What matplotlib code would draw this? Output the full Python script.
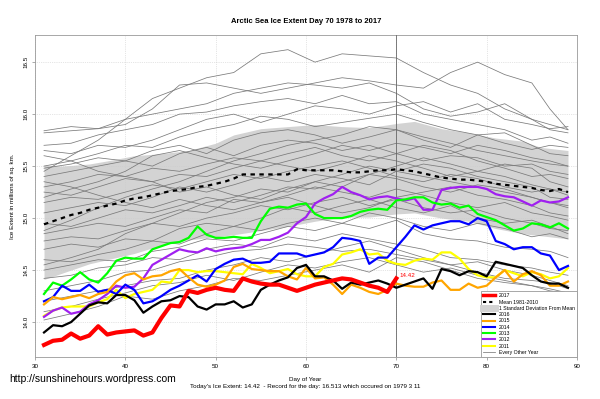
import matplotlib
matplotlib.use("Agg")
import matplotlib.pyplot as plt
from matplotlib.lines import Line2D
import numpy as np

plt.rcParams['font.family'] = ['Liberation Sans', 'DejaVu Sans']

days = list(range(31, 90))
days_2017 = list(range(31, 71))

ice_2017 = [13.78, 13.82, 13.83, 13.89, 13.84, 13.87, 13.96, 13.88, 13.90, 13.91,
            13.92, 13.87, 13.90, 14.04, 14.16, 14.15, 14.30, 14.28, 14.31, 14.33,
            14.31, 14.30, 14.42, 14.39, 14.37, 14.36, 14.36, 14.33, 14.30, 14.33,
            14.36, 14.38, 14.40, 14.42, 14.41, 14.38, 14.35, 14.33, 14.29, 14.42]
ice_2016 = [13.90, 13.97, 13.96, 14.00, 14.08, 14.16, 14.19, 14.18, 14.26, 14.26,
            14.21, 14.09, 14.15, 14.20, 14.21, 14.25, 14.24, 14.15, 14.12, 14.17,
            14.17, 14.20, 14.14, 14.17, 14.31, 14.36, 14.40, 14.43, 14.52, 14.55,
            14.44, 14.44, 14.40, 14.32, 14.38, 14.36, 14.38, 14.40, 14.37, 14.33,
            14.36, 14.39, 14.42, 14.32, 14.51, 14.49, 14.45, 14.49, 14.48, 14.44,
            14.58, 14.56, 14.54, 14.52, 14.45, 14.39, 14.37, 14.37, 14.33]
ice_2015 = [14.17, 14.24, 14.22, 14.24, 14.26, 14.23, 14.27, 14.29, 14.39, 14.45,
            14.47, 14.41, 14.44, 14.45, 14.49, 14.51, 14.43, 14.36, 14.34, 14.36,
            14.40, 14.53, 14.56, 14.51, 14.50, 14.49, 14.49, 14.44, 14.41, 14.52,
            14.42, 14.43, 14.36, 14.27, 14.36, 14.33, 14.29, 14.27, 14.31, 14.37,
            14.35, 14.34, 14.34, 14.38, 14.40, 14.31, 14.31, 14.37, 14.33, 14.35,
            14.43, 14.50, 14.39, 14.46, 14.49, 14.45, 14.35, 14.35, 14.39]
ice_2014 = [14.20, 14.24, 14.35, 14.30, 14.30, 14.36, 14.29, 14.31, 14.27, 14.36,
            14.31, 14.18, 14.20, 14.25, 14.31, 14.35, 14.40, 14.45, 14.39, 14.51,
            14.56, 14.60, 14.61, 14.57, 14.57, 14.58, 14.66, 14.66, 14.66, 14.63,
            14.65, 14.67, 14.72, 14.81, 14.80, 14.78, 14.56, 14.62, 14.62, 14.72,
            14.82, 14.93, 14.89, 14.93, 14.95, 14.97, 14.97, 14.94, 15.00, 14.97,
            14.78, 14.75, 14.70, 14.72, 14.72, 14.66, 14.64, 14.50, 14.54]
ice_2013 = [14.27, 14.38, 14.35, 14.41, 14.48, 14.41, 14.38, 14.47, 14.59, 14.62,
            14.61, 14.61, 14.70, 14.73, 14.76, 14.77, 14.81, 14.92, 14.84, 14.81,
            14.81, 14.82, 14.81, 14.81, 14.97, 15.09, 15.11, 15.10, 15.13, 15.14,
            15.04, 15.00, 15.00, 15.00, 15.02, 15.06, 15.08, 15.09, 15.08, 15.17,
            15.18, 15.20, 15.20, 15.15, 15.13, 15.14, 15.10, 15.12, 15.04, 15.01,
            14.98, 14.93, 14.88, 14.90, 14.95, 14.94, 14.91, 14.95, 14.90]
ice_2012 = [14.05, 14.11, 14.14, 14.08, 14.10, 14.17, 14.21, 14.27, 14.35, 14.33,
            14.34, 14.42, 14.55, 14.60, 14.65, 14.70, 14.68, 14.67, 14.71, 14.68,
            14.70, 14.71, 14.72, 14.75, 14.79, 14.79, 14.82, 14.86, 14.95, 15.01,
            15.14, 15.19, 15.23, 15.30, 15.25, 15.22, 15.18, 15.20, 15.21, 15.19,
            15.17, 15.19, 15.08, 15.08, 15.27, 15.29, 15.30, 15.30, 15.30, 15.28,
            15.23, 15.21, 15.20, 15.16, 15.12, 15.17, 15.15, 15.16, 15.20]
ice_2011 = [14.06, 14.11, 14.14, 14.15, 14.15, 14.15, 14.19, 14.22, 14.31, 14.23,
            14.27, 14.29, 14.31, 14.39, 14.38, 14.50, 14.50, 14.48, 14.49, 14.49,
            14.48, 14.47, 14.46, 14.56, 14.52, 14.47, 14.49, 14.51, 14.46, 14.44,
            14.44, 14.53, 14.56, 14.65, 14.67, 14.70, 14.65, 14.66, 14.59, 14.56,
            14.55, 14.59, 14.61, 14.60, 14.67, 14.67, 14.61, 14.51, 14.45, 14.43,
            14.43, 14.50, 14.47, 14.44, 14.48, 14.46, 14.42, 14.44, 14.52]
mean_1981_2010 = [14.94, 14.97, 15.00, 15.03, 15.05, 15.08, 15.10, 15.12, 15.14, 15.17,
                  15.19, 15.20, 15.22, 15.24, 15.26, 15.27, 15.28, 15.30, 15.31, 15.33,
                  15.35, 15.38, 15.42, 15.42, 15.42, 15.42, 15.42, 15.42, 15.47, 15.46,
                  15.46, 15.46, 15.46, 15.45, 15.44, 15.44, 15.45, 15.46, 15.46, 15.47,
                  15.46, 15.45, 15.43, 15.41, 15.39, 15.38, 15.37, 15.37, 15.36, 15.35,
                  15.33, 15.32, 15.31, 15.30, 15.29, 15.27, 15.26, 15.28, 15.25]

band_days = [31, 33, 36, 38, 41, 44, 47, 50, 52, 55, 58, 61, 64, 67, 70, 72, 75, 78, 81, 84, 86, 89]
band_upper = [15.51, 15.50, 15.52, 15.55, 15.60, 15.62, 15.65, 15.72, 15.80, 15.86, 15.88,
              15.90, 15.88, 15.87, 15.91, 15.93, 15.86, 15.82, 15.77, 15.74, 15.68, 15.65]
band_lower = [14.41, 14.47, 14.56, 14.60, 14.66, 14.74, 14.79, 14.82, 14.84, 14.88, 14.92,
              14.97, 15.01, 15.01, 15.04, 15.05, 15.00, 14.97, 14.90, 14.85, 14.83, 14.80]

# other years, read every few days
gray_days = [31, 34, 37, 40, 43, 46, 49, 52, 55, 58, 61, 64, 67, 70, 73, 76, 79, 82, 85, 87, 89]
gray_years = [
    [15.45, 15.60, 15.75, 15.95, 16.15, 16.25, 16.35, 16.40, 16.58, 16.62, 16.50, 16.58, 16.56, 16.54, 16.40, 16.28, 16.20, 16.05, 15.95, 15.90, 15.85],
    [15.82, 15.84, 15.86, 15.90, 16.05, 16.28, 16.30, 16.25, 16.20, 16.25, 16.30, 16.35, 16.32, 16.28, 16.25, 16.40, 16.50, 16.38, 16.30, 16.05, 15.85],
    [15.84, 15.88, 15.86, 15.95, 16.00, 16.05, 16.10, 16.20, 16.25, 16.30, 16.28, 16.25, 16.30, 16.20, 16.05, 15.98, 16.02, 16.10, 15.95, 15.85, 15.82],
    [15.70, 15.72, 15.80, 15.85, 15.90, 16.00, 16.02, 16.08, 16.12, 16.15, 16.10, 16.18, 16.10, 16.12, 16.00, 15.95, 15.90, 15.85, 15.75, 15.78, 15.72],
    [15.65, 15.62, 15.70, 15.68, 15.75, 15.85, 15.95, 16.00, 15.92, 16.00, 16.08, 16.05, 16.00, 16.08, 16.12, 16.02, 16.10, 15.95, 15.90, 15.86, 15.88],
    [15.50, 15.55, 15.62, 15.70, 15.68, 15.78, 15.85, 15.90, 15.98, 15.95, 15.88, 15.92, 15.96, 16.00, 15.92, 15.85, 15.80, 15.82, 15.70, 15.62, 15.60],
    [15.48, 15.52, 15.58, 15.55, 15.65, 15.70, 15.62, 15.75, 15.82, 15.85, 15.80, 15.72, 15.78, 15.85, 15.75, 15.68, 15.80, 15.72, 15.66, 15.70, 15.68],
    [15.40, 15.45, 15.50, 15.55, 15.50, 15.62, 15.68, 15.60, 15.70, 15.75, 15.72, 15.65, 15.70, 15.62, 15.55, 15.60, 15.58, 15.50, 15.52, 15.45, 15.42],
    [15.30, 15.35, 15.42, 15.40, 15.48, 15.45, 15.52, 15.58, 15.55, 15.62, 15.68, 15.60, 15.55, 15.62, 15.70, 15.65, 15.55, 15.48, 15.40, 15.42, 15.38],
    [15.25, 15.22, 15.30, 15.38, 15.35, 15.42, 15.40, 15.48, 15.55, 15.50, 15.45, 15.52, 15.60, 15.55, 15.48, 15.40, 15.45, 15.52, 15.48, 15.35, 15.30],
    [15.15, 15.20, 15.18, 15.25, 15.32, 15.28, 15.35, 15.42, 15.38, 15.45, 15.50, 15.55, 15.48, 15.40, 15.35, 15.42, 15.38, 15.30, 15.25, 15.28, 15.22],
    [15.05, 15.10, 15.15, 15.12, 15.20, 15.30, 15.25, 15.32, 15.40, 15.35, 15.42, 15.38, 15.32, 15.45, 15.52, 15.48, 15.40, 15.35, 15.30, 15.20, 15.18],
    [14.95, 14.92, 15.00, 15.08, 15.05, 15.12, 15.20, 15.15, 15.22, 15.30, 15.28, 15.35, 15.42, 15.38, 15.30, 15.25, 15.32, 15.28, 15.20, 15.15, 15.10],
    [14.85, 14.90, 14.95, 14.92, 15.00, 15.08, 15.05, 15.18, 15.15, 15.22, 15.30, 15.25, 15.20, 15.28, 15.22, 15.15, 15.10, 15.15, 15.05, 15.02, 14.98],
    [14.78, 14.82, 14.80, 14.88, 14.95, 14.92, 15.00, 15.05, 15.12, 15.08, 15.15, 15.20, 15.12, 15.18, 15.10, 15.05, 15.08, 15.00, 14.95, 14.90, 14.88],
    [14.70, 14.75, 14.72, 14.80, 14.78, 14.90, 14.95, 14.92, 15.00, 15.10, 15.05, 15.12, 15.18, 15.10, 15.05, 15.12, 15.00, 14.95, 14.98, 14.92, 14.85],
    [14.60, 14.58, 14.65, 14.70, 14.78, 14.75, 14.85, 14.92, 14.88, 14.95, 15.00, 14.95, 15.05, 15.00, 14.92, 14.88, 14.95, 14.90, 14.82, 14.85, 14.80],
    [14.50, 14.55, 14.60, 14.58, 14.68, 14.72, 14.80, 14.78, 14.85, 14.92, 14.88, 14.95, 14.90, 14.98, 14.85, 14.80, 14.78, 14.72, 14.70, 14.68, 14.62],
    [14.42, 14.45, 14.52, 14.55, 14.62, 14.60, 14.70, 14.75, 14.72, 14.82, 14.78, 14.85, 14.80, 14.75, 14.70, 14.62, 14.60, 14.55, 14.52, 14.48, 14.45],
    [14.30, 14.35, 14.40, 14.48, 14.50, 14.58, 14.62, 14.68, 14.70, 14.75, 14.72, 14.68, 14.70, 14.65, 14.60, 14.55, 14.58, 14.50, 14.45, 14.40, 14.35],
    [14.20, 14.25, 14.30, 14.35, 14.40, 14.42, 14.50, 14.55, 14.62, 14.58, 14.65, 14.72, 14.78, 14.70, 14.62, 14.55, 14.48, 14.42, 14.40, 14.38, 14.32],
    [14.10, 14.15, 14.22, 14.28, 14.35, 14.38, 14.45, 14.40, 14.48, 14.55, 14.52, 14.58, 14.62, 14.55, 14.48, 14.52, 14.45, 14.40, 14.35, 14.30, 14.28],
    [14.02, 14.08, 14.15, 14.25, 14.22, 14.30, 14.35, 14.42, 14.40, 14.45, 14.50, 14.55, 14.48, 14.62, 14.58, 14.50, 14.42, 14.38, 14.35, 14.32, 14.28],
    [15.60, 15.55, 15.45, 15.40, 15.35, 15.25, 15.30, 15.22, 15.18, 15.28, 15.35, 15.30, 15.42, 15.50, 15.58, 15.52, 15.45, 15.40, 15.32, 15.28, 15.25],
    [14.88, 14.98, 15.10, 15.20, 15.28, 15.35, 15.45, 15.55, 15.62, 15.70, 15.75, 15.80, 15.88, 15.85, 15.78, 15.72, 15.65, 15.60, 15.55, 15.52, 15.50],
    [15.35, 15.30, 15.22, 15.15, 15.10, 15.18, 15.12, 15.08, 15.15, 15.20, 15.12, 15.05, 15.10, 15.20, 15.25, 15.30, 15.22, 15.18, 15.12, 15.05, 15.02],
    [14.55, 14.62, 14.70, 14.85, 14.95, 15.05, 15.15, 15.20, 15.28, 15.25, 15.35, 15.42, 15.50, 15.45, 15.40, 15.35, 15.30, 15.25, 15.20, 15.15, 15.12],
    [15.20, 15.28, 15.35, 15.45, 15.60, 15.65, 15.58, 15.52, 15.48, 15.55, 15.62, 15.70, 15.65, 15.72, 15.68, 15.62, 15.70, 15.65, 15.58, 15.55, 15.50],
]

fig = plt.figure(figsize=(6, 3.99), dpi=100)
ax = fig.add_axes([0.0583, 0.105, 0.9034, 0.807])

ax.fill_between(band_days, band_lower, band_upper, color='#d3d3d3', lw=0, zorder=1)
for g in gray_years:
    ax.plot(gray_days, g, color='#7a7a7a', lw=0.55, zorder=2)
ax.plot(days, mean_1981_2010, color='black', lw=1.6, ls=(0, (2, 2)), zorder=3)

ax.plot(days, ice_2011, color='#ffff00', lw=1.6, zorder=4)
ax.plot(days, ice_2012, color='#a020f0', lw=1.6, zorder=4)
ax.plot(days, ice_2013, color='#00ff00', lw=1.6, zorder=4)
ax.plot(days, ice_2014, color='#0000ff', lw=1.6, zorder=4)
ax.plot(days, ice_2015, color='#ffa500', lw=1.6, zorder=4)
ax.plot(days, ice_2016, color='black', lw=1.6, zorder=4)
ax.plot(days_2017, ice_2017, color='red', lw=3.0, zorder=5)

ax.axvline(70, color='#666666', lw=0.6, zorder=3)
ax.text(70.3, ice_2017[-1], '14.42', color='red', fontsize=4.5, va='bottom', ha='left', zorder=6)

ax.set_xlim(30, 90)
ax.set_ylim(13.663, 16.76)
ax.set_xticks([30, 40, 50, 60, 70, 80, 90])
ax.set_yticks([14.0, 14.5, 15.0, 15.5, 16.0, 16.5])
ax.set_yticklabels(['14.0', '14.5', '15.0', '15.5', '16.0', '16.5'], rotation=90, va='center')
ax.tick_params(labelsize=4.5, length=2, width=0.5, color='#888888', pad=3)
ax.grid(True, ls=':', color='#cccccc', lw=0.5, zorder=0)
for s in ax.spines.values():
    s.set_color('#999999')
    s.set_linewidth(0.6)

ax.set_ylabel('Ice Extent in millions of sq. km.', fontsize=4.5, labelpad=6)

handles = [
    Line2D([], [], color='red', lw=2.5),
    Line2D([], [], color='black', lw=1.5, ls=(0, (1.5, 1.5))),
    Line2D([], [], color='#d3d3d3', lw=5),
    Line2D([], [], color='black', lw=1.5),
    Line2D([], [], color='#ffa500', lw=1.5),
    Line2D([], [], color='#0000ff', lw=1.5),
    Line2D([], [], color='#00ff00', lw=1.5),
    Line2D([], [], color='#a020f0', lw=1.5),
    Line2D([], [], color='#ffff00', lw=1.5),
    Line2D([], [], color='#7a7a7a', lw=0.55),
]
labels = ['2017', 'Mean 1981-2010', '1 Standard Deviation From Mean', '2016', '2015',
          '2014', '2013', '2012', '2011', 'Every Other Year']
leg = ax.legend(handles, labels, loc='lower right', fontsize=3.7, frameon=True, fancybox=False,
                borderaxespad=0, edgecolor='#999999', framealpha=1, handlelength=2.2,
                labelspacing=0.25, borderpad=0.45, handletextpad=0.8)
leg.get_frame().set_linewidth(0.6)
leg.set_zorder(10)

fig.text(0.511, 0.945, 'Arctic Sea Ice Extent Day 70 1978 to 2017', fontsize=5.5,
         fontweight='bold', ha='center', va='center')
fig.text(0.508, 0.048, 'Day of Year', fontsize=4.5, ha='center', va='center')
fig.text(0.508, 0.031, "Today's Ice Extent: 14.42  - Record for the day: 16.513 which occured on 1979 3 11",
         fontsize=4.5, ha='center', va='center')
fig.text(0.015, 0.050, 'http://sunshinehours.wordpress.com', fontsize=7.5, ha='left', va='center')

fig.savefig('out.png', dpi=100)
